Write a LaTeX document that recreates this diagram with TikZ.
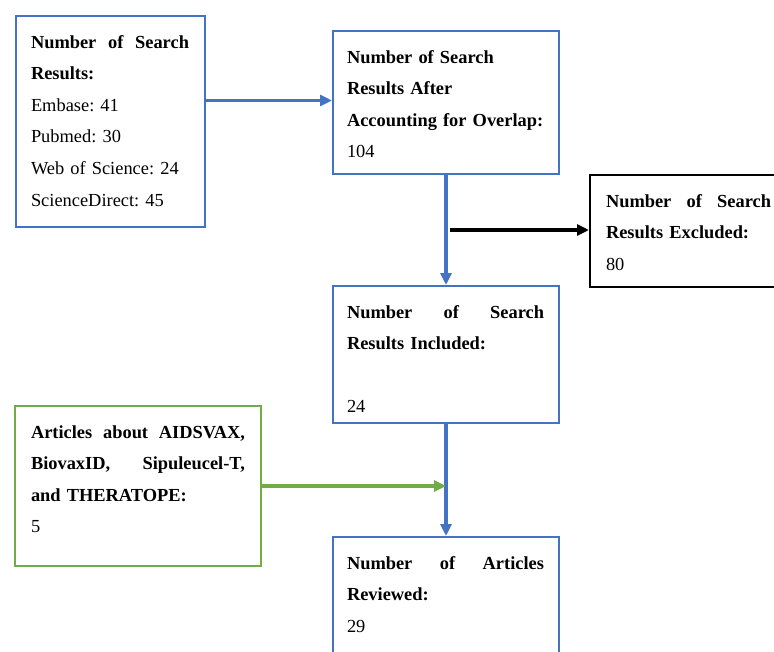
\documentclass[tikz,border=0pt]{standalone}
\usepackage{fontspec}
\setmainfont{Liberation Serif}
\usetikzlibrary{arrows.meta,calc}
\definecolor{flowblue}{HTML}{4472C4}
\definecolor{flowgreen}{HTML}{70AD47}
\frenchspacing
\hyphenpenalty=10000
\exhyphenpenalty=10000
\newcommand{\spreadline}[2]{\hbox to #1{#2}}

\begin{document}
\begin{tikzpicture}[x=1pt,y=-1pt,
  stagebox/.style={draw=flowblue,line width=2pt,anchor=north west,align=left,
    inner xsep=14pt,inner ysep=0pt,text height=32pt,
    font=\fontsize{18.4}{31.6}\selectfont},
  flow/.style={flowblue,line width=3.4pt,-{Triangle[length=12pt,width=11pt]}}]
  \useasboundingbox (0,0) rectangle (774,651);

  % boxes
  \node[stagebox,inner xsep=15pt,text width=159pt,text depth=179pt] (found) at (15,15)
    {\textbf{\spreadline{158pt}{Number\hfill of\hfill Search}}\\\textbf{Results:}\\Embase: 41\\Pubmed: 30\\Web of Science: 24\\ScienceDirect: 45};
  \node[stagebox,text width=198pt,text depth=111pt] (dedup) at (332,30)
    {\textbf{Number of Search}\\\textbf{Results After}\\\textbf{Accounting for Overlap:}\\104};
  \node[stagebox,draw=black,inner xsep=16pt,text width=166pt,text depth=80pt] (excl) at (589,174)
    {\textbf{\spreadline{165pt}{Number\hfill of\hfill Search}}\\\textbf{Results Excluded:}\\80};
  \node[stagebox,text width=198pt,text depth=105pt] (incl) at (332,285)
    {\textbf{\spreadline{197pt}{Number\hfill of\hfill Search}}\\\textbf{Results Included:}\\\mbox{}\\24};
  \node[stagebox,draw=flowgreen,inner xsep=16pt,text width=214pt,text depth=128pt] (extra) at (14,405)
    {\textbf{\spreadline{214pt}{Articles\hfill about\hfill AIDSVAX,}}\\\textbf{\spreadline{214pt}{BiovaxID,\hfill Sipuleucel-T,}}\\\textbf{and THERATOPE:}\\5};
  \node[stagebox,text width=198pt,text depth=102pt] (review) at (332,536)
    {\textbf{\spreadline{197pt}{Number\hfill of\hfill Articles}}\\\textbf{Reviewed:}\\29};

  % connectors
  \coordinate (split) at ($(dedup.south)!0.5!(incl.north)$);
  \coordinate (merge) at (extra.east -| incl.south);
  \draw[flow] ([yshift=2pt]found.east |- dedup.west) -- ([yshift=2pt]dedup.west);
  \draw[flow] (dedup.south) -- (incl.north);
  \draw[black,line width=3.4pt,-{Triangle[length=12pt,width=11pt]}]
    ([xshift=4pt]split) -- (split -| excl.west);
  \draw[flow] (incl.south) -- (review.north);
  \draw[flowgreen,line width=3.4pt,-{Triangle[length=12pt,width=11pt]}]
    (extra.east) -- (merge);
\end{tikzpicture}
\end{document}
